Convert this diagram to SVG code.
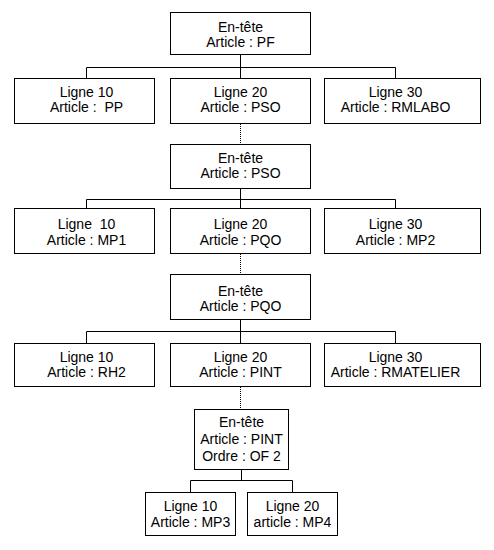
<svg xmlns="http://www.w3.org/2000/svg" width="494" height="550" viewBox="0 0 494 550">
<style>
rect{fill:#fff;stroke:#000;stroke-width:1}
text{font-family:"Liberation Sans",Arial,sans-serif;font-size:14px;fill:#000;text-anchor:middle}
.c line{stroke:#000;stroke-width:1}
.c .d{stroke-dasharray:1 1}
</style>
<rect x="0" y="0" width="494" height="550" style="stroke:none"/>
<g class="c" id="connectors">
<line x1="240.5" y1="54.5" x2="240.5" y2="78.5"/>
<line x1="86.5" y1="67.5" x2="395.5" y2="67.5"/>
<line x1="86.5" y1="67.5" x2="86.5" y2="78.5"/>
<line x1="395.5" y1="67.5" x2="395.5" y2="78.5"/>
<line class="d" x1="240.5" y1="124" x2="240.5" y2="144.5"/>
<line x1="240.5" y1="188.5" x2="240.5" y2="208.5"/>
<line x1="86.5" y1="199.5" x2="395.5" y2="199.5"/>
<line x1="86.5" y1="199.5" x2="86.5" y2="208.5"/>
<line x1="395.5" y1="199.5" x2="395.5" y2="208.5"/>
<line class="d" x1="240.5" y1="254" x2="240.5" y2="274.5"/>
<line x1="240.5" y1="319.5" x2="240.5" y2="343.5"/>
<line x1="86.5" y1="331.5" x2="395.5" y2="331.5"/>
<line x1="86.5" y1="331.5" x2="86.5" y2="343.5"/>
<line x1="395.5" y1="331.5" x2="395.5" y2="343.5"/>
<line class="d" x1="240.5" y1="387" x2="240.5" y2="409.5"/>
<line x1="241.5" y1="469.5" x2="241.5" y2="480.5"/>
<line x1="190.5" y1="480.5" x2="292.5" y2="480.5"/>
<line x1="190.5" y1="480.5" x2="190.5" y2="492.5"/>
<line x1="292.5" y1="480.5" x2="292.5" y2="492.5"/>
</g>
<g id="n-pf"><rect x="170.5" y="12.5" width="140" height="42"/><text x="240.5" y="31.5">En-tête</text><text x="240.5" y="46.5">Article : PF</text></g>
<g id="n-l10-pp"><rect x="14.5" y="78.5" width="140" height="45"/><text x="86.5" y="96.5">Ligne 10</text><text x="86.5" y="111.5" xml:space="preserve">Article :  PP</text></g>
<g id="n-l20-pso"><rect x="170.5" y="78.5" width="140" height="45"/><text x="240.5" y="96.5">Ligne 20</text><text x="240.5" y="111.5">Article : PSO</text></g>
<g id="n-l30-rmlabo"><rect x="324.5" y="78.5" width="156" height="45"/><text x="395.5" y="96.5">Ligne 30</text><text x="395.5" y="111.5">Article : RMLABO</text></g>
<g id="n-pso"><rect x="170.5" y="144.5" width="140" height="44"/><text x="240.5" y="162.5">En-tête</text><text x="240.5" y="177.5">Article : PSO</text></g>
<g id="n-l10-mp1"><rect x="14.5" y="208.5" width="140" height="45"/><text x="86.5" y="229" xml:space="preserve">Ligne  10</text><text x="86.5" y="244.5">Article : MP1</text></g>
<g id="n-l20-pqo"><rect x="170.5" y="208.5" width="140" height="45"/><text x="240.5" y="229">Ligne 20</text><text x="240.5" y="244.5">Article : PQO</text></g>
<g id="n-l30-mp2"><rect x="324.5" y="208.5" width="156" height="45"/><text x="395.5" y="229">Ligne 30</text><text x="395.5" y="244.5">Article : MP2</text></g>
<g id="n-pqo"><rect x="170.5" y="274.5" width="140" height="45"/><text x="240.5" y="295.5">En-tête</text><text x="240.5" y="310.5">Article : PQO</text></g>
<g id="n-l10-rh2"><rect x="14.5" y="343.5" width="140" height="43"/><text x="86.5" y="361.5">Ligne 10</text><text x="86.5" y="377">Article : RH2</text></g>
<g id="n-l20-pint"><rect x="170.5" y="343.5" width="140" height="43"/><text x="240.5" y="361.5">Ligne 20</text><text x="240.5" y="377">Article : PINT</text></g>
<g id="n-l30-rmatelier"><rect x="324.5" y="343.5" width="156" height="43"/><text x="395.5" y="361.5">Ligne 30</text><text x="395.5" y="377">Article : RMATELIER</text></g>
<g id="n-pint"><rect x="194.5" y="409.5" width="94" height="60"/><text x="241.5" y="426.5">En-tête</text><text x="241.5" y="444">Article : PINT</text><text x="241.5" y="461">Ordre : OF 2</text></g>
<g id="n-l10-mp3"><rect x="145.5" y="492.5" width="90" height="43"/><text x="190.5" y="510.5">Ligne 10</text><text x="190.5" y="526.5">Article : MP3</text></g>
<g id="n-l20-mp4"><rect x="247.5" y="492.5" width="90" height="43"/><text x="292.5" y="510.5">Ligne 20</text><text x="292.5" y="526.5">article : MP4</text></g>
</svg>
